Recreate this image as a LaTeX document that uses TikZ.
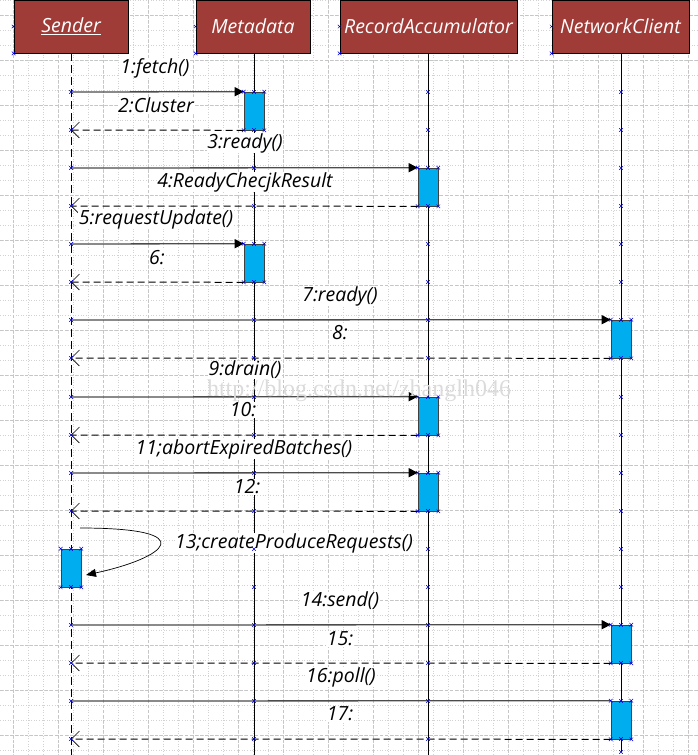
\documentclass[tikz,border=0pt]{standalone}
\usepackage{fontspec}
\setmainfont{Open Sans}
\newfontfamily\wmfont{Liberation Serif}
\usetikzlibrary{arrows.meta}
\definecolor{hdred}{RGB}{160,60,56}
\definecolor{actblue}{RGB}{0,174,239}
\tikzset{bx/.pic={\draw[blue!85!black,line width=0.5pt] (-1.8,-1.8)--(1.8,1.8) (-1.8,1.8)--(1.8,-1.8);}}

\begin{document}
\begin{tikzpicture}[x=1pt,y=-1pt,
  font=\fontsize{19.5}{21}\selectfont\itshape,
  head/.style={draw=black, line width=0.8pt, fill=hdred, text=white,
    minimum width=114pt, minimum height=53pt, inner sep=0pt},
  act/.style={draw=black!75, line width=0.6pt, fill=actblue,
    minimum width=20pt, minimum height=38pt, inner sep=0pt},
  lab/.style={fill=white, inner sep=0.5pt},
  life/.style={draw=black, line width=1pt},
  call/.style={draw=black!70, line width=1.3pt, -{Triangle[length=9pt,width=9pt,color=black]}},
  ret/.style={draw=black, line width=1pt, dash pattern=on 7pt off 4pt,
    -{Straight Barb[length=8pt,width=16pt,line width=0.6pt]}},
  selfc/.style={draw=black, line width=0.7pt, -{Triangle[length=10pt,width=8pt]}}]
  \useasboundingbox (0,0) rectangle (698,755);
  % grid
  \foreach \g in {13,28,...,698} \draw[gray!35, dotted, line width=0.6pt] (\g,0) -- (\g,755);
  \foreach \g in {0,15,...,755} \draw[gray!35, dotted, line width=0.6pt] (0,\g) -- (698,\g);
  \foreach \g in {13,58,...,698} \draw[gray!45, dash pattern=on 3pt off 2pt, line width=0.6pt] (\g,0) -- (\g,755);
  \foreach \g in {15,60,...,755} \draw[gray!45, dash pattern=on 3pt off 2pt, line width=0.6pt] (0,\g) -- (698,\g);
  % objects
  \node[head] (snd)  at (71,26.5)  {\underline{Sender}};
  \node[head] (meta) at (253,26.5) {Metadata};
  \node[head, minimum width=177pt] (acc) at (428.5,26.5) {RecordAccumulator};
  \node[head, minimum width=137pt] (net) at (620.5,26.5) {NetworkClient};
  % lifelines
  \coordinate (sndE)  at (71,755);
  \coordinate (metaE) at (254,755);
  \coordinate (accE)  at (428,755);
  \coordinate (netE)  at (621,752);
  \draw[life, dash pattern=on 8pt off 4pt] (snd.south) -- (sndE);
  \draw[life] (meta.south -| metaE) -- (metaE);
  \draw[life] (acc.south -| accE) -- (accE);
  \draw[life] (net.south -| netE) -- (netE);
  % activations
  \node[act] (a1)  at (254,111) {};
  \node[act] (a3)  at (428,187) {};
  \node[act] (a5)  at (254,263) {};
  \node[act] (a7)  at (621,339) {};
  \node[act] (a9)  at (428,416) {};
  \node[act] (a11) at (428,492) {};
  \node[act] (a13) at (71,568)  {};
  \node[act] (a14) at (621,644) {};
  \node[act] (a16) at (621,720) {};
  % points on the sender lifeline
  \foreach \n/\y in {1/92,2/130,3/168,4/206,5/244,6/282,7/320,8/358,9/397,10/435,
                     11/473,12/511,14/625,15/663,16/701,17/739}
    \coordinate (s\n) at (71,\y);
  \coordinate (c13a) at (80,528);
  \coordinate (c13b) at (86,575);
  % messages
  \draw[call] (s1) -- (a1.north west);   \draw[ret] (a1.south west) -- (s2);
  \draw[call] (s3) -- (a3.north west);   \draw[ret] (a3.south west) -- (s4);
  \draw[call] (s5) -- (a5.north west);   \draw[ret] (a5.south west) -- (s6);
  \draw[call] (s7) -- (a7.north west);   \draw[ret] (a7.south west) -- (s8);
  \draw[call] (s9) -- (a9.north west);   \draw[ret] (a9.south west) -- (s10);
  \draw[call] (s11) -- (a11.north west); \draw[ret] (a11.south west) -- (s12);
  \draw[selfc] (c13a) .. controls (205,528) and (165,558) .. (c13b);
  \draw[call] (s14) -- (a14.north west); \draw[ret] (a14.south west) -- (s15);
  \draw[call, -] (s16) -- (a16.north west); \draw[ret] (a16.south west) -- (s17);
  % labels
  \node[lab] (l1)  at (155,68)  {1:fetch()};
  \node[lab] (l2)  at (156,105) {2:Cluster};
  \node[lab] (l3)  at (245,143) {3:ready()};
  \node[lab] (l4)  at (245,182) {4:ReadyChecjkResult};
  \node[lab] (l5)  at (156,219) {5:requestUpdate()};
  \node[lab] (l6)  at (157,258) {6:};
  \node[lab] (l7)  at (340,296) {7:ready()};
  \node[lab] (l8)  at (340,333) {8:};
  \node[lab] (l9)  at (245,370) {9:drain()};
  \node[lab] (l10) at (243,410) {10:};
  \node[lab] (l11) at (244,449) {11;abortExpiredBatches()};
  \node[lab] (l12) at (247,487) {12:};
  \node[lab] (l13) at (294,543) {13;createProduceRequests()};
  \node[lab] (l14) at (340,601) {14:send()};
  \node[lab] (l15) at (340,639) {15:};
  \node[lab] (l16) at (341,677) {16:poll()};
  \node[lab] (l17) at (340,714) {17:};
  % handle marks
  \foreach \y in {92,130,168,206,244,282,320,358,397,435,473,511,549,587,625,663,701,739}
    \foreach \x in {71,254,428,621} \pic at (\x,\y) {bx};
  \foreach \b in {a1,a3,a5,a7,a9,a11,a13,a14,a16} {
    \pic at (\b.north west) {bx}; \pic at (\b.north east) {bx};
    \pic at (\b.south west) {bx}; \pic at (\b.south east) {bx};}
  \foreach \h in {snd,meta,acc,net} {\pic at (\h.west) {bx}; \pic at (\h.south west) {bx};}
  \pic at (netE) {bx};
  % watermark
  \node[text=gray!28, font=\wmfont\fontsize{24}{26}\selectfont] (wm) at (359,391)
    {http://blog.csdn.net/zhanglh046};
\end{tikzpicture}
\end{document}
